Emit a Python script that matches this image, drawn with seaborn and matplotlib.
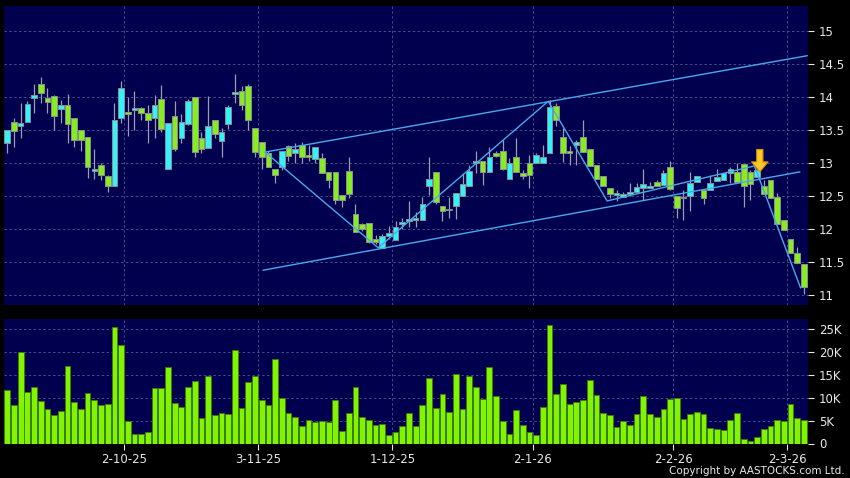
import numpy as np
import pandas as pd
import seaborn as sns
import matplotlib.pyplot as plt

# daily candles (HKD), session index 0..119
opens = [13.30, 13.62, 13.57, 13.62, 13.985, 14.20, 13.985, 14.02, 13.83, 13.89,
         13.68, 13.50, 13.40, 12.88, 12.97, 12.81, 12.65, 13.69, 13.78, 13.81,
         13.84, 13.76, 13.69, 13.97, 12.92, 13.72, 13.39, 13.59, 14.00, 13.39,
         13.23, 13.65, 13.34, 13.59, 14.05, 14.10, 14.17, 13.53, 13.33, 13.15,
         12.91, 12.94, 13.26, 13.16, 13.28, 13.11, 13.06, 13.08, 12.87, 12.87,
         12.52, 12.89, 12.23, 12.08, 12.09, 11.85, 11.72, 11.90, 11.84, 12.08,
         12.13, 12.14, 12.14, 12.65, 12.87, 12.36, 12.29, 12.35, 12.50, 12.66,
         13.00, 13.035, 12.87, 13.16, 13.18, 12.76, 13.09, 12.86, 13.01, 13.01,
         13.01, 13.15, 13.87, 13.40, 13.18, 13.28, 13.40, 13.21, 12.97, 12.80,
         12.62, 12.52, 12.49, 12.54, 12.57, 12.62, 12.62, 12.72, 12.67, 12.94,
         12.51, 12.47, 12.50, 12.71, 12.60, 12.60, 12.73, 12.75, 12.86, 12.87,
         12.99, 12.87, 12.79, 12.65, 12.74, 12.49, 12.14, 11.86, 11.64, 11.48]
highs = [13.50, 13.68, 13.91, 13.94, 14.20, 14.31, 14.14, 14.04, 13.96, 14.05,
         13.68, 13.50, 13.40, 13.22, 13.00, 12.83, 13.91, 14.24, 14.01, 14.09,
         13.86, 13.88, 14.04, 14.19, 13.61, 13.94, 13.75, 13.97, 14.00, 13.48,
         14.02, 13.65, 13.53, 13.89, 14.35, 14.17, 14.20, 13.53, 13.33, 13.18,
         12.91, 13.19, 13.28, 13.30, 13.33, 13.27, 13.24, 13.15, 12.87, 12.87,
         12.52, 13.09, 12.39, 12.10, 12.09, 11.92, 11.93, 12.05, 12.12, 12.17,
         12.43, 12.26, 12.49, 13.09, 12.87, 12.36, 12.49, 12.55, 12.85, 12.97,
         13.18, 13.035, 13.25, 13.19, 13.35, 13.08, 13.38, 12.90, 13.13, 13.15,
         13.27, 13.96, 13.91, 13.54, 13.26, 13.36, 13.66, 13.21, 12.97, 12.80,
         12.62, 12.60, 12.56, 12.70, 12.70, 12.91, 12.72, 12.75, 12.90, 13.04,
         12.51, 12.60, 12.87, 12.80, 12.60, 12.82, 12.92, 12.86, 12.94, 13.00,
         12.99, 12.90, 12.90, 12.75, 12.74, 12.55, 12.14, 11.86, 11.73, 11.48]
lows = [13.15, 13.25, 13.38, 13.62, 13.76, 13.91, 13.76, 13.50, 13.61, 13.30,
        13.25, 13.19, 12.78, 12.76, 12.75, 12.57, 12.65, 13.61, 13.42, 13.50,
        13.66, 13.30, 13.39, 13.48, 12.91, 13.18, 13.30, 13.58, 13.09, 13.15,
        13.23, 13.38, 13.10, 13.52, 13.91, 13.80, 13.50, 13.09, 12.91, 12.94,
        12.70, 12.90, 13.04, 13.00, 13.00, 13.04, 13.00, 12.86, 12.62, 12.39,
        12.34, 12.48, 11.96, 11.98, 11.79, 11.78, 11.71, 11.85, 11.84, 12.00,
        12.04, 12.04, 12.14, 12.52, 12.38, 12.13, 12.17, 12.15, 12.50, 12.66,
        12.85, 12.67, 12.87, 13.10, 12.90, 12.76, 12.87, 12.76, 12.62, 13.01,
        13.01, 13.15, 13.57, 13.02, 12.97, 12.97, 13.17, 12.96, 12.76, 12.66,
        12.47, 12.43, 12.49, 12.50, 12.57, 12.44, 12.62, 12.65, 12.67, 12.60,
        12.17, 12.14, 12.27, 12.71, 12.38, 12.60, 12.73, 12.75, 12.70, 12.72,
        12.34, 12.44, 12.79, 12.54, 12.47, 12.08, 11.99, 11.64, 11.49, 11.02]
closes = [13.50, 13.49, 13.61, 13.90, 14.035, 14.07, 13.925, 13.71, 13.88, 13.60,
          13.36, 13.35, 12.94, 12.91, 12.82, 12.66, 13.66, 14.14, 13.74, 13.815,
          13.76, 13.66, 13.89, 13.52, 13.61, 13.21, 13.62, 13.95, 13.17, 13.21,
          13.56, 13.45, 13.47, 13.86, 14.07, 13.88, 13.66, 13.17, 13.09, 12.94,
          12.82, 13.19, 13.11, 13.21, 13.09, 13.10, 13.24, 12.86, 12.74, 12.44,
          12.44, 12.53, 11.96, 12.00, 11.81, 11.80, 11.90, 11.95, 12.04, 12.09,
          12.14, 12.15, 12.38, 12.76, 12.42, 12.28, 12.30, 12.555, 12.69, 12.89,
          13.035, 12.87, 13.09, 13.11, 12.91, 13.01, 12.87, 12.81, 12.83, 13.12,
          13.09, 13.86, 13.65, 13.15, 13.15, 13.33, 13.17, 12.96, 12.76, 12.66,
          12.53, 12.52, 12.53, 12.54, 12.64, 12.68, 12.66, 12.65, 12.85, 12.61,
          12.33, 12.48, 12.70, 12.80, 12.47, 12.70, 12.79, 12.86, 12.91, 12.72,
          12.66, 12.68, 12.90, 12.54, 12.47, 12.08, 11.99, 11.64, 11.49, 11.12]
# volume in thousand shares
volume_k = [11.6, 8.3, 19.9, 11.2, 12.3, 9.3, 7.5, 6.2, 7.0, 16.8,
            9.1, 7.5, 10.9, 9.4, 8.3, 8.5, 25.4, 21.5, 4.9, 2.0,
            2.0, 2.4, 12.0, 12.0, 16.7, 8.9, 8.0, 12.3, 13.6, 5.5,
            14.7, 6.2, 6.7, 6.4, 20.4, 7.7, 13.3, 14.6, 9.4, 8.3,
            18.3, 9.9, 6.7, 5.7, 3.9, 5.1, 4.7, 4.9, 4.6, 9.4,
            2.7, 6.7, 12.2, 5.7, 5.2, 4.0, 4.3, 1.9, 2.4, 3.8,
            6.6, 3.8, 8.3, 14.3, 7.7, 10.7, 6.8, 15.1, 7.6, 14.6,
            12.3, 9.7, 16.7, 10.3, 4.9, 2.0, 7.2, 4.0, 2.5, 1.9,
            7.9, 25.7, 10.7, 13.0, 8.5, 9.1, 9.4, 13.9, 10.5, 6.7,
            6.2, 3.5, 5.0, 4.1, 6.5, 10.3, 6.5, 5.7, 7.4, 9.6,
            9.9, 5.4, 6.4, 6.8, 6.4, 3.4, 3.2, 3.0, 5.2, 6.7,
            1.0, 0.6, 1.5, 3.1, 3.8, 5.1, 4.9, 8.6, 5.6, 5.1]

# first session of each month shown on the axis
month_start_idx = [18, 38, 58, 79, 100, 117]
month_labels = ["2-10-25", "3-11-25", "1-12-25", "2-1-26", "2-2-26", "2-3-26"]

# hand-drawn trend lines (session index, price)
zigzag_x = [38.5, 55.4, 80.8, 89.6, 111.6, 118.5]
zigzag_y = [13.17, 11.72, 13.94, 12.43, 12.96, 11.11]
upper_x = [38.5, 119.5]
upper_y = [13.17, 14.63]
lower_x = [38.2, 118.4]
lower_y = [11.38, 12.87]
signal_idx = 112.4
signal_price = 12.87

navy = "#00004e"
gridc = "#4a4a8c"
txtc = "#e8e8e8"
cyan = "#33f2fc"
green = "#86ee20"
linec = "#4aa8ec"

df = pd.DataFrame({"idx": np.arange(len(opens)), "open": opens, "high": highs,
                   "low": lows, "close": closes, "vol": volume_k})
df["up"] = df["close"] >= df["open"]

sns.set_theme(style="dark", rc={"axes.facecolor": navy, "figure.facecolor": "black"})
plt.rcParams["font.family"] = ["DejaVu Sans"]

fig = plt.figure(figsize=(8.5, 4.78), dpi=100)
ax = fig.add_axes([4 / 850, 1 - 305 / 478, 804 / 850, 299 / 478])
axv = fig.add_axes([4 / 850, 1 - 443.5 / 478, 804 / 850, 125 / 478])

# candles
ax.vlines(df["idx"], df["low"], df["high"], color="#9c9cac", lw=0.9, zorder=2)
body_lo = df[["open", "close"]].min(axis=1)
body_h = (df["close"] - df["open"]).abs().clip(lower=0.025)
cols = np.where(df["up"], cyan, green)
ax.bar(df["idx"], body_h, bottom=body_lo, width=0.84, color=cols,
       edgecolor="#8a9090", linewidth=0.7, zorder=3)

# trend lines
ax.plot(upper_x, upper_y, color=linec, lw=1, zorder=4)
ax.plot(lower_x, lower_y, color=linec, lw=1, zorder=4)
ax.plot(zigzag_x, zigzag_y, color=linec, lw=1, zorder=4)
ax.annotate("", xy=(signal_idx, signal_price), xytext=(signal_idx, signal_price + 0.34),
            arrowprops=dict(arrowstyle="simple,head_width=1.0,head_length=0.6,tail_width=0.38",
                            fc="#fcc824", ec="#d08a10", lw=0.8, shrinkA=0, shrinkB=0),
            zorder=5)

# volume
sns.barplot(data=df, x="idx", y="vol", ax=axv, native_scale=True, width=0.86,
            color="#80f400", saturation=1, edgecolor="#3c7c08", linewidth=0.6,
            errorbar=None, zorder=3)

xmin, xmax = -0.49, 119.6
for a in (ax, axv):
    a.set_xlim(xmin, xmax)
    a.set_facecolor(navy)
    for s in a.spines.values():
        s.set_visible(False)
    a.yaxis.tick_right()
    a.set_xticks([i - 0.5 for i in month_start_idx])
    a.grid(True, color=gridc, ls=(0, (2.5, 2.5)), lw=0.7)
    a.set_axisbelow(True)
    a.tick_params(axis="y", colors=txtc, labelcolor=txtc, length=4, width=0.8,
                  labelsize=8.5, pad=4, right=True, left=False)
    a.set_xlabel("")
    a.set_ylabel("")

ax.set_ylim(10.853, 15.383)
ax.set_yticks([11, 11.5, 12, 12.5, 13, 13.5, 14, 14.5, 15])
ax.set_yticklabels(["11", "11.5", "12", "12.5", "13", "13.5", "14", "14.5", "15"])
ax.tick_params(axis="x", length=0, labelbottom=False)

axv.set_ylim(0, 27.2)
axv.set_yticks([0, 5, 10, 15, 20, 25])
axv.set_yticklabels(["0", "5K", "10K", "15K", "20K", "25K"])
axv.set_xticklabels(month_labels)
axv.tick_params(axis="x", colors=txtc, labelcolor=txtc, length=4, width=0.8,
                labelsize=8.5, pad=3, bottom=True)

fig.text(0.994, 0.004, "Copyright by AASTOCKS.com Ltd.", color=txtc, fontsize=7.5,
         ha="right", va="bottom")

fig.savefig("out.png", dpi=100, facecolor="black")
